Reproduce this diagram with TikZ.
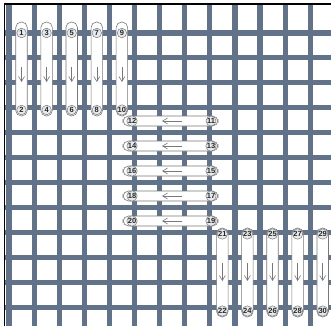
\documentclass[tikz,border=0pt]{standalone}
\usepackage{fontspec}
\setmainfont{Liberation Sans}
\usetikzlibrary{arrows.meta}
\definecolor{barblue}{RGB}{98,115,137}
\definecolor{pillline}{RGB}{120,120,120}
\tikzset{
  bar/.style={barblue, line width=5.2pt},
  pill/.style={draw=pillline, fill=white, line width=0.6pt, rounded corners=5.5pt},
  num/.style={circle, draw=pillline, fill=barblue!15, line width=0.5pt, inner sep=0.2pt,
    minimum size=9.5pt, font=\bfseries\fontsize{7.5}{8}\selectfont, text=black!85},
  dir/.style={pillline, line width=0.6pt}
}
\begin{document}
\begin{tikzpicture}[x=1pt, y=-1pt, >={Straight Barb[length=5pt,width=6pt]}]
 \useasboundingbox (0,0) rectangle (331,326);
 \fill[white] (0,0) rectangle (331,326);
 % plastic canvas
 \foreach \k in {1,...,12} \draw[bar] (5,8+24.95*\k) -- (331,8+24.95*\k);
 \foreach \k in {0,...,12} \draw[bar] (9+25.1*\k,4) -- (9+25.1*\k,326);
 \draw[line width=1.8pt] (4.5,326) -- (4.5,4) -- (331,4);
 % first rows, worked downwards
 \foreach \c/\a/\b in {0/1/2, 1/3/4, 2/5/6, 3/7/8, 4/9/10} {
   \draw[pill] (15.75+25.1*\c,22) rectangle (27.25+25.1*\c,116);
   \draw[dir,->] (21.5+25.1*\c,67) -- (21.5+25.1*\c,82);
   \node[num] (n\a) at (21.5+25.1*\c,33) {\a};
   \node[num] (n\b) at (21.5+25.1*\c,110) {\b};
 }
 % middle rows, worked to the left
 \foreach \r/\b/\a in {0/11/12, 1/13/14, 2/15/16, 3/17/18, 4/19/20} {
   \draw[pill] (123,116+25*\r) rectangle (218,126+25*\r);
   \draw[dir,->] (182,121+25*\r) -- (162,121+25*\r);
   \node[num] (n\a) at (132,121+25*\r) {\a};
   \node[num] (n\b) at (211,121+25*\r) {\b};
 }
 % last rows, worked downwards
 \foreach \c/\a/\b in {0/21/22, 1/23/24, 2/25/26, 3/27/28, 4/29/30} {
   \draw[pill] (216.55+25.1*\c,228) rectangle (228.05+25.1*\c,317);
   \draw[dir,->] (222.3+25.1*\c,263) -- (222.3+25.1*\c,281);
   \node[num] (n\a) at (222.3+25.1*\c,234) {\a};
   \node[num] (n\b) at (222.3+25.1*\c,311) {\b};
 }
\end{tikzpicture}
\end{document}
